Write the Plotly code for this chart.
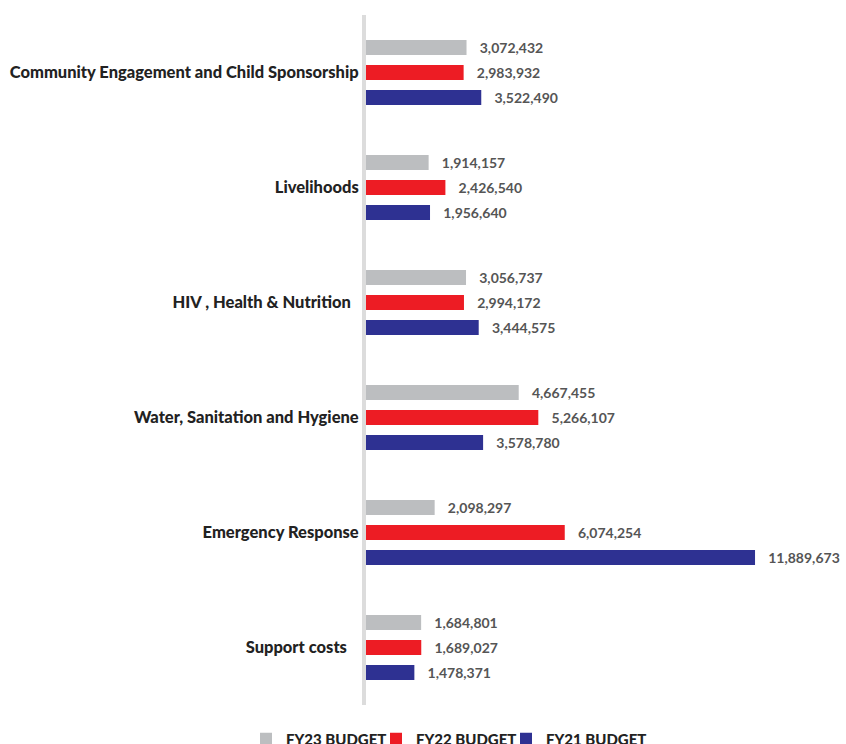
import plotly.graph_objects as go

categories = [
    "Community Engagement and Child Sponsorship",
    "Livelihoods",
    "HIV , Health & Nutrition\u00a0\u00a0",
    "Water, Sanitation and Hygiene",
    "Emergency Response",
    "Support costs\u00a0\u00a0\u00a0",
]
fy23 = [3072432, 1914157, 3056737, 4667455, 2098297, 1684801]
fy22 = [2983932, 2426540, 2994172, 5266107, 6074254, 1689027]
fy21 = [3522490, 1956640, 3444575, 3578780, 11889673, 1478371]

series = [
    ("FY23 BUDGET", fy23, "#bcbec0", "legend"),
    ("FY22 BUDGET", fy22, "#ed1c24", "legend2"),
    ("FY21 BUDGET", fy21, "#2e3192", "legend3"),
]

fig = go.Figure()
for name, vals, color, leg in series:
    fig.add_trace(go.Bar(
        y=categories, x=vals, name=name, orientation="h", legend=leg,
        marker=dict(color=color, line=dict(width=0)),
        text=[f"\u00a0\u00a0\u00a0{v:,}" for v in vals],
        textposition="outside", cliponaxis=False, constraintext="none",
        textfont=dict(family="Lato", size=14, color="#555555", weight="bold"),
    ))

legfont = dict(family="Lato", size=15, color="#222222", weight=900)
legcommon = dict(orientation="h", xanchor="left", xref="container", yref="container",
                 yanchor="top", y=0.029, font=legfont, itemwidth=30,
                 bgcolor="rgba(0,0,0,0)")

fig.update_layout(
    width=846, height=744,
    margin=dict(l=366, r=0, t=15, b=39, autoexpand=False),
    paper_bgcolor="white", plot_bgcolor="white",
    barmode="group", bargap=0.348, bargroupgap=0.4,
    font=dict(family="Lato", color="#222222"),
    showlegend=True,
    legend=dict(x=246 / 846, **legcommon),
    legend2=dict(x=376 / 846, **legcommon),
    legend3=dict(x=506 / 846, **legcommon),
    xaxis=dict(range=[0, 14.67e6], showgrid=False, showticklabels=False,
               zeroline=False, showline=False, fixedrange=True, automargin=False),
    yaxis=dict(autorange="reversed", showgrid=False, ticks="", automargin=False,
               showline=True, linecolor="#dcdcdc", linewidth=4,
               tickfont=dict(family="Lato", size=16.5, color="#222222", weight=900)),
)

fig.write_html(
    "out.html",
    config={"displayModeBar": False},
    post_script="document.body.style.margin='0';document.body.style.overflow='hidden';",
)
